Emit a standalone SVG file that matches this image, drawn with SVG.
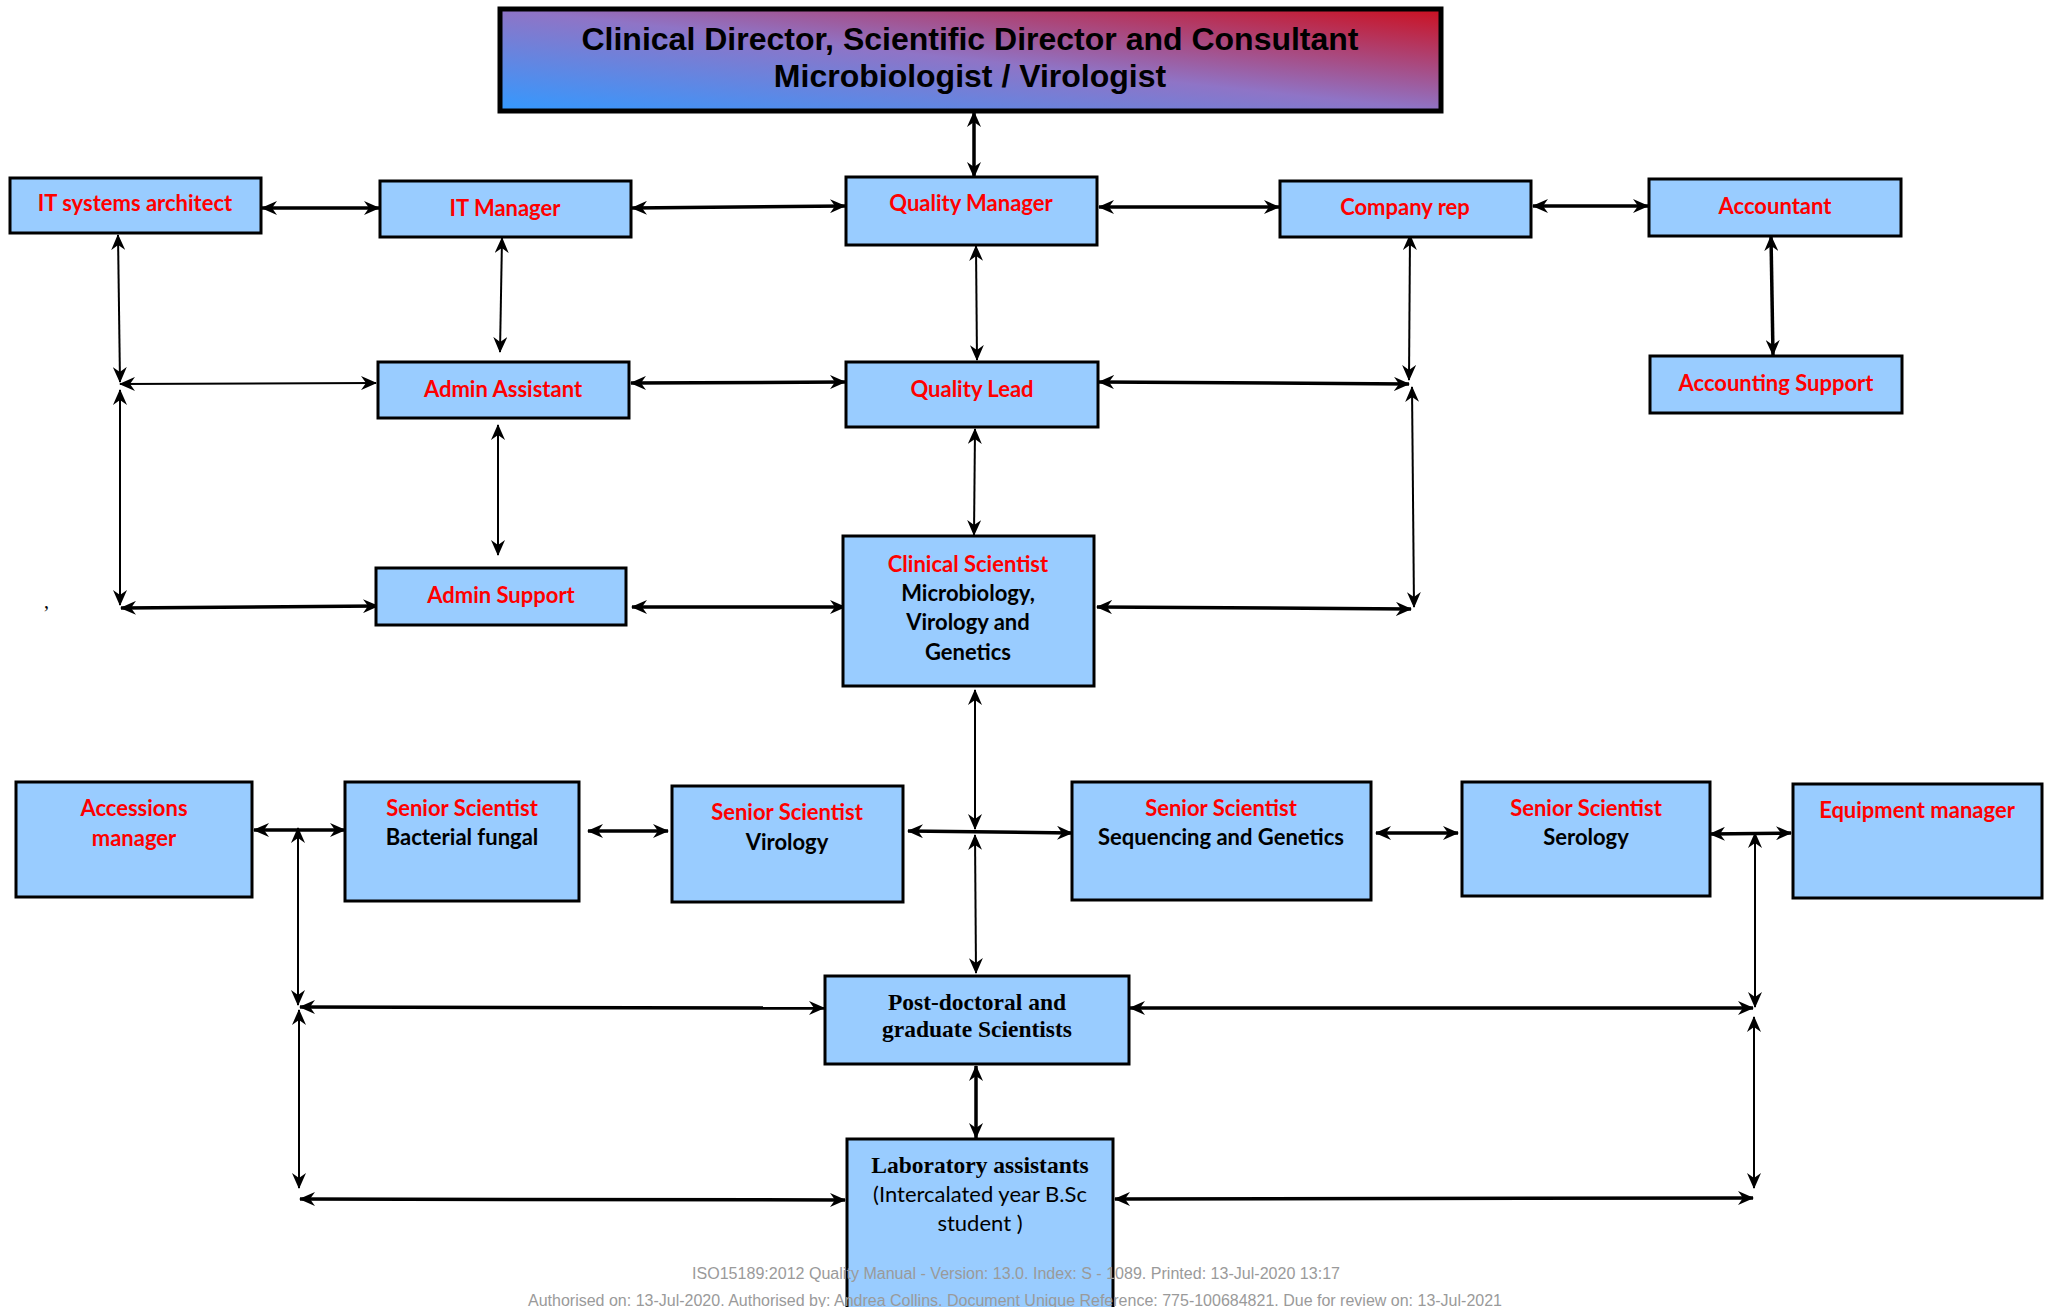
<svg xmlns="http://www.w3.org/2000/svg" width="2049" height="1307" viewBox="0 0 2049 1307">
<defs>
<linearGradient id="topg" x1="0" y1="1" x2="1" y2="0">
<stop offset="0" stop-color="#3399ff"/>
<stop offset="0.5" stop-color="#8f74c6"/>
<stop offset="1" stop-color="#cc1020"/>
</linearGradient>
<marker id="ah" viewBox="0 0 16 14" refX="15" refY="7" markerWidth="16" markerHeight="14" orient="auto-start-reverse" markerUnits="userSpaceOnUse">
<path d="M0,0 L16,7 L0,14 L5,7 z" fill="#000"/>
</marker>
<style>
.box{fill:#99ccff;stroke:#000;stroke-width:3}
.t{font-family:Lato,"Open Sans",sans-serif;font-weight:bold;font-size:22px;text-anchor:middle}
.r{fill:#ff0000}
.k{fill:#000}
.reg{font-weight:normal}
.tm{font-family:"Liberation Serif","Times New Roman",serif;font-weight:bold;font-size:23.5px;text-anchor:middle;fill:#000}
.c{fill:none;stroke:#000;marker-start:url(#ah);marker-end:url(#ah)}
.w3{stroke-width:3.5}
.w2{stroke-width:2}
.ft{font-family:"Liberation Sans",Arial,sans-serif;font-size:16px;fill:#9a9a9a;text-anchor:middle}
</style>
</defs>
<rect width="2049" height="1307" fill="#fff"/>

<g id="connectors">
<line class="c w3" x1="974" y1="112" x2="974" y2="177"/>
<line class="c w3" x1="262" y1="208" x2="379" y2="208"/>
<line class="c w3" x1="632" y1="208" x2="845" y2="206"/>
<line class="c w3" x1="1099" y1="207" x2="1279" y2="207"/>
<line class="c w3" x1="1533" y1="206" x2="1648" y2="206"/>
<line class="c w2" x1="118" y1="235" x2="120" y2="382"/>
<line class="c w2" x1="120" y1="384" x2="376" y2="383"/>
<line class="c w2" x1="120" y1="390" x2="120" y2="605"/>
<line class="c w3" x1="121" y1="608" x2="378" y2="606"/>
<line class="c w2" x1="502" y1="238" x2="500" y2="352"/>
<line class="c w3" x1="631" y1="383" x2="845" y2="382"/>
<line class="c w2" x1="976" y1="246" x2="977" y2="360"/>
<line class="c w3" x1="1099" y1="382" x2="1409" y2="384"/>
<line class="c w2" x1="1410" y1="235" x2="1409" y2="380"/>
<line class="c w2" x1="1412" y1="387" x2="1414" y2="607"/>
<line class="c w3" x1="1097" y1="607" x2="1411" y2="609"/>
<line class="c w3" x1="632" y1="607" x2="845" y2="607"/>
<line class="c w2" x1="498" y1="425" x2="498" y2="555"/>
<line class="c w2" x1="975" y1="429" x2="974" y2="535"/>
<line class="c w3" x1="1771" y1="236" x2="1773" y2="355"/>
<line class="c w2" x1="975" y1="690" x2="975" y2="829"/>
<line class="c w3" x1="908" y1="831" x2="1072" y2="833"/>
<line class="c w2" x1="975" y1="835" x2="976" y2="973"/>
<line class="c w3" x1="254" y1="830" x2="345" y2="830"/>
<line class="c w2" x1="298" y1="828" x2="298" y2="1005"/>
<line class="c w3" x1="300" y1="1007" x2="824" y2="1008"/>
<line class="c w2" x1="299" y1="1010" x2="299" y2="1188"/>
<line class="c w3" x1="300" y1="1199" x2="845" y2="1200"/>
<line class="c w3" x1="588" y1="831" x2="668" y2="831"/>
<line class="c w3" x1="1376" y1="833" x2="1458" y2="833"/>
<line class="c w3" x1="1710" y1="834" x2="1791" y2="833"/>
<line class="c w2" x1="1755" y1="833" x2="1755" y2="1007"/>
<line class="c w3" x1="1130" y1="1008" x2="1753" y2="1008"/>
<line class="c w2" x1="1754" y1="1017" x2="1754" y2="1188"/>
<line class="c w3" x1="1115" y1="1199" x2="1753" y2="1198"/>
<line class="c w3" x1="976" y1="1066" x2="976" y2="1138"/>
</g>

<g id="director">
<rect x="500" y="9" width="941" height="102" fill="url(#topg)" stroke="#000" stroke-width="5"/>
<text x="970" y="50" font-family="'Liberation Sans',Arial,sans-serif" font-weight="bold" font-size="32" text-anchor="middle" fill="#000">Clinical Director, Scientific Director and Consultant</text>
<text x="970" y="87" font-family="'Liberation Sans',Arial,sans-serif" font-weight="bold" font-size="32" text-anchor="middle" fill="#000">Microbiologist / Virologist</text>
</g>

<g id="it-architect"><rect class="box" x="10" y="178" width="251" height="55"/><text class="t r" x="135" y="211">IT systems architect</text></g>
<g id="it-manager"><rect class="box" x="380" y="181" width="251" height="56"/><text class="t r" x="505" y="216">IT Manager</text></g>
<g id="quality-manager"><rect class="box" x="846" y="177" width="251" height="68"/><text class="t r" x="971" y="211">Quality Manager</text></g>
<g id="company-rep"><rect class="box" x="1280" y="181" width="251" height="56"/><text class="t r" x="1405" y="215">Company rep</text></g>
<g id="accountant"><rect class="box" x="1649" y="179" width="252" height="57"/><text class="t r" x="1775" y="214">Accountant</text></g>
<g id="accounting-support"><rect class="box" x="1650" y="356" width="252" height="57"/><text class="t r" x="1776" y="391">Accounting Support</text></g>
<g id="admin-assistant"><rect class="box" x="378" y="362" width="251" height="56"/><text class="t r" x="503" y="397">Admin Assistant</text></g>
<g id="quality-lead"><rect class="box" x="846" y="362" width="252" height="65"/><text class="t r" x="972" y="397">Quality Lead</text></g>
<g id="admin-support"><rect class="box" x="376" y="568" width="250" height="57"/><text class="t r" x="501" y="603">Admin Support</text></g>
<g id="clinical-scientist"><rect class="box" x="843" y="536" width="251" height="150"/>
<text class="t r" x="968" y="572">Clinical Scientist</text>
<text class="t k" x="968" y="601">Microbiology,</text>
<text class="t k" x="968" y="630">Virology and</text>
<text class="t k" x="968" y="660">Genetics</text></g>

<g id="accessions-manager"><rect class="box" x="16" y="782" width="236" height="115"/><text class="t r" x="134" y="816">Accessions</text><text class="t r" x="134" y="846">manager</text></g>
<g id="senior-bacterial"><rect class="box" x="345" y="782" width="234" height="119"/><text class="t r" x="462" y="816">Senior Scientist</text><text class="t k" x="462" y="845">Bacterial fungal</text></g>
<g id="senior-virology"><rect class="box" x="672" y="786" width="231" height="116"/><text class="t r" x="787" y="820">Senior Scientist</text><text class="t k" x="787" y="850">Virology</text></g>
<g id="senior-sequencing"><rect class="box" x="1072" y="782" width="299" height="118"/><text class="t r" x="1221" y="816">Senior Scientist</text><text class="t k" x="1221" y="845">Sequencing and Genetics</text></g>
<g id="senior-serology"><rect class="box" x="1462" y="782" width="248" height="114"/><text class="t r" x="1586" y="816">Senior Scientist</text><text class="t k" x="1586" y="845">Serology</text></g>
<g id="equipment-manager"><rect class="box" x="1793" y="784" width="249" height="114"/><text class="t r" x="1917" y="818">Equipment manager</text></g>
<g id="postdoc"><rect class="box" x="825" y="976" width="304" height="88"/><text class="tm" x="977" y="1010">Post-doctoral and</text><text class="tm" x="977" y="1037">graduate Scientists</text></g>
<g id="lab-assistants"><rect class="box" x="847" y="1139" width="266" height="190"/>
<text class="tm" x="980" y="1173">Laboratory assistants</text>
<text class="t k reg" x="980" y="1202">(Intercalated year B.Sc</text>
<text class="t k reg" x="980" y="1231">student )</text></g>

<text x="44" y="608" font-family="'Liberation Serif',serif" font-size="20" fill="#000">,</text>

<g id="footer">
<text class="ft" x="1016" y="1279" textLength="648" lengthAdjust="spacingAndGlyphs">ISO15189:2012 Quality Manual - Version: 13.0. Index: S - 1089. Printed: 13-Jul-2020 13:17</text>
<text class="ft" x="1015" y="1306" textLength="974" lengthAdjust="spacingAndGlyphs">Authorised on: 13-Jul-2020. Authorised by: Andrea Collins. Document Unique Reference: 775-100684821. Due for review on: 13-Jul-2021</text>
</g>
</svg>
